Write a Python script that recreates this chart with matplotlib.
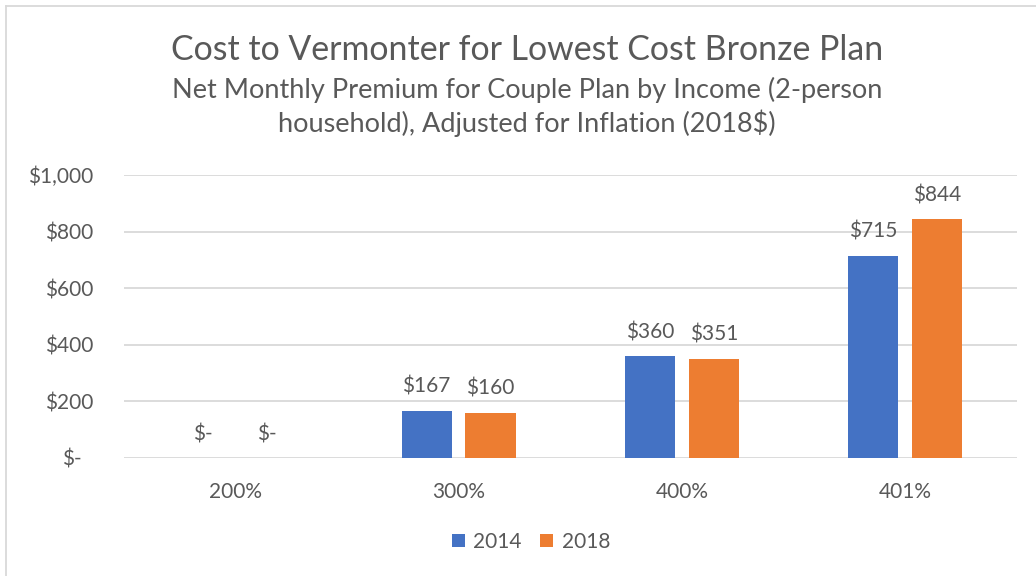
import matplotlib.pyplot as plt
import matplotlib.transforms as mtransforms
from matplotlib.ticker import FuncFormatter
import numpy as np

# data
categories = ["200%", "300%", "400%", "401%"]
series_names = ["2014", "2018"]
vals_2014 = [0, 167, 360, 715]
vals_2018 = [0, 160, 351, 844]
y_ticks = [0, 200, 400, 600, 800, 1000]

plt.rcParams['font.family'] = ['Lato', 'DejaVu Sans']
txt = '#595959'
colors = ['#4472C4', '#ED7D31']

W, H = 1036, 576
fig = plt.figure(figsize=(W / 100, H / 100), dpi=100)

# plot area in pixels
x0, x1 = 123.5, 1017
y_top, y_bot = 175, 458
ax = fig.add_axes([x0 / W, 1 - y_bot / H, (x1 - x0) / W, (y_bot - y_top) / H])

x = np.arange(len(categories))
bw = 0.224
off = 0.143
for i, (vals, name) in enumerate(zip([vals_2014, vals_2018], series_names)):
    pos = x + (off if i else -off)
    ax.bar(pos, vals, width=bw, color=colors[i], label=name, zorder=3)
    for p, v in zip(pos, vals):
        lab = "$-" if v == 0 else f"${v:,}"
        ax.annotate(lab, (p, v), xytext=(0, 10), textcoords='offset points',
                    ha='center', va='bottom', fontsize=15, color=txt)

ax.set_xlim(-0.5, len(categories) - 0.5)
ax.set_ylim(0, 1000)
ax.set_yticks(y_ticks)
ax.yaxis.set_major_formatter(FuncFormatter(lambda v, p: "$-" if v == 0 else f"${int(v):,}"))
ax.set_xticks(x)
ax.set_xticklabels(categories)
ax.grid(axis='y', color='#D9D9D9', linewidth=1.3, zorder=0)
for s in ax.spines.values():
    s.set_visible(False)
ax.tick_params(axis='both', length=0, labelsize=15, labelcolor=txt)
ax.tick_params(axis='y', pad=22)
ax.tick_params(axis='x', pad=17)
# accounting-style offset for the zero label
zl = ax.get_yticklabels()[0]
zl.set_transform(zl.get_transform() + mtransforms.ScaledTranslation(-11 / 100, 0, fig.dpi_scale_trans))

fig.text(527 / W, 1 - 50 / H, "Cost to Vermonter for Lowest Cost Bronze Plan",
         ha='center', va='center', fontsize=24.4, color=txt)
fig.text(527 / W, 1 - 107 / H,
         "Net Monthly Premium for Couple Plan by Income (2-person\nhousehold), Adjusted for Inflation (2018$)",
         ha='center', va='center', fontsize=19.5, color=txt, linespacing=1.3)

leg = fig.legend(loc='center', bbox_to_anchor=(531 / W, 1 - 542 / H), ncol=2, frameon=False,
                 fontsize=15, handlelength=0.62, handleheight=0.62, handletextpad=0.4,
                 columnspacing=0.9)
for t in leg.get_texts():
    t.set_color(txt)

# chart border
fig.add_artist(plt.Line2D([6 / W, 6 / W], [0, 1 - 6 / H], color='#D9D9D9', lw=1.3))
fig.add_artist(plt.Line2D([6 / W, 1], [1 - 6 / H, 1 - 6 / H], color='#D9D9D9', lw=1.3))

fig.savefig('out.png', dpi=100)
